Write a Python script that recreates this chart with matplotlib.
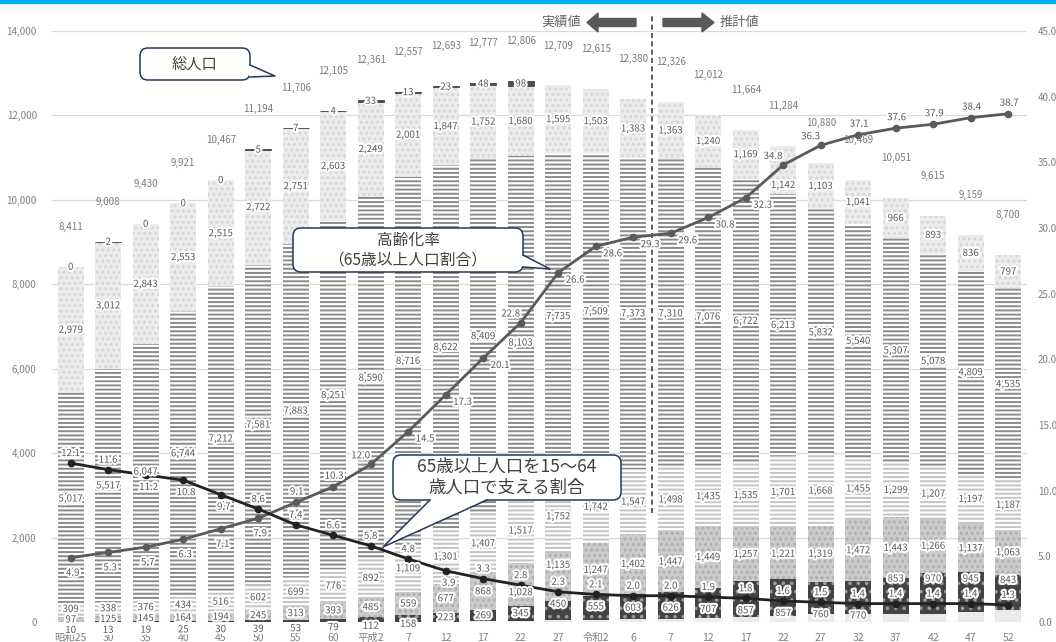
import numpy as np
import matplotlib
matplotlib.use("Agg")
import matplotlib.pyplot as plt
from matplotlib import patheffects as pe
from matplotlib.patches import FancyBboxPatch, Polygon, Rectangle
from matplotlib.lines import Line2D
from matplotlib.transforms import IdentityTransform

plt.rcParams['font.family'] = ['Noto Sans CJK JP', 'DejaVu Sans']
plt.rcParams['hatch.linewidth'] = 1.4

# --- data (万人 / %) ---
years = ["昭和25", "30", "35", "40", "45", "50", "55", "60", "平成2", "7", "12", "17", "22",
         "27", "令和2", "6", "7", "12", "17", "22", "27", "32", "37", "42", "47", "52"]
total = [8411, 9008, 9430, 9921, 10467, 11194, 11706, 12105, 12361, 12557, 12693, 12777, 12806,
         12709, 12615, 12380, 12326, 12012, 11664, 11284, 10880, 10469, 10051, 9615, 9159, 8700]
unknown = [0, 2, 0, 0, 0, 5, 7, 4, 33, 13, 23, 48, 98,
           None, None, None, None, None, None, None, None, None, None, None, None, None]
age0_14 = [2979, 3012, 2843, 2553, 2515, 2722, 2751, 2603, 2249, 2001, 1847, 1752, 1680,
           1595, 1503, 1383, 1363, 1240, 1169, 1142, 1103, 1041, 966, 893, 836, 797]
age15_64 = [5017, 5517, 6047, 6744, 7212, 7581, 7883, 8251, 8590, 8716, 8622, 8409, 8103,
            7735, 7509, 7373, 7310, 7076, 6722, 6213, 5832, 5540, 5307, 5078, 4809, 4535]
age65_74 = [309, 338, 376, 434, 516, 602, 699, 776, 892, 1109, 1301, 1407, 1517,
            1752, 1742, 1547, 1498, 1435, 1535, 1701, 1668, 1455, 1299, 1207, 1197, 1187]
age75_84 = [97, 125, 145, 164, 194, 245, 313, 393, 485, 559, 677, 868, 1028,
            1135, 1247, 1402, 1447, 1449, 1257, 1221, 1319, 1472, 1443, 1266, 1137, 1063]
age85_94 = [10, 13, 19, 25, 30, 39, 53, 79, 112, 158, 223, 269, 345,
            450, 555, 603, 626, 707, 857, 857, 760, 770, 853, 970, 945, 843]
age95 = [0, 0, 0, 0, 0, 0, 0, 0, 0, 0, 0, 24, 35,
         42, 59, 72, 82, 105, 124, 150, 198, 191, 183, 201, 235, 275]
aging_rate = [4.9, 5.3, 5.7, 6.3, 7.1, 7.9, 9.1, 10.3, 12.0, 14.5, 17.3, 20.1, 22.8,
              26.6, 28.6, 29.3, 29.6, 30.8, 32.3, 34.8, 36.3, 37.1, 37.6, 37.9, 38.4, 38.7]
support = [12.1, 11.6, 11.2, 10.8, 9.7, 8.6, 7.4, 6.6, 5.8, 4.8, 3.9, 3.3, 2.8,
           2.3, 2.1, 2.0, 2.0, 1.9, 1.8, 1.6, 1.5, 1.4, 1.4, 1.4, 1.4, 1.3]

# label placement codes
aging_pos = ['b', 'b', 'b', 'b', 'b', 'b', 'a', 'a', 'ul', 'r', 'r', 'r', 'ul',
             'r', 'r', 'r', 'r', 'r', 'r', 'ul', 'ul', 'a', 'a', 'a', 'a', 'a']
support_pos = ['a', 'a', 'b', 'b', 'b', 'a', 'a', 'a', 'a', 'a', 'b', 'a', 'a',
               'a', 'a', 'a', 'a', 'a', 'a', 'a', 'a', 'a', 'a', 'a', 'a', 'a']
dark_pos = ['c'] * 13 + ['lo'] * 9 + ['hi'] * 4

W, H = 1056, 642
TXT = '#595959'
halo = [pe.withStroke(linewidth=3, foreground='white')]

fig = plt.figure(figsize=(W / 100, H / 100), dpi=100)
ax = fig.add_axes([52 / W, 20 / H, 975 / W, 591 / H])
ax2 = ax.twinx()

x = np.arange(len(years))
n = len(years)
unk = np.array([0 if v is None else v for v in unknown], dtype=float)

layers = [
    (age95, dict(color='#ebebeb')),
    (age85_94, dict(facecolor='#434343', edgecolor='#9a9a9a', hatch='..')),
    (age75_84, dict(facecolor='#cbcbcb', edgecolor='#adadad', hatch='...')),
    (age65_74, dict(facecolor='white', edgecolor='#c4c4c4', hatch='----')),
    (age15_64, dict(facecolor='white', edgecolor='#8a8a8a', hatch='----')),
    (age0_14, dict(facecolor='#ececec', edgecolor='#d6d6d6', hatch='...')),
]
bottom = np.zeros(n)
bases = []
for vals, style in layers:
    vals = np.array(vals, dtype=float)
    ax.bar(x, vals, 0.7, bottom=bottom, linewidth=0, **style)
    bases.append(bottom.copy())
    bottom = bottom + vals
# 不詳 (thin dark cap)
mask = unk > 0
ax.bar(x[mask], unk[mask], 0.7, bottom=bottom[mask], color='#505050',
       edgecolor='#505050', linewidth=0.7)

ax.set_xlim(-0.5, n - 0.5)
ax.set_ylim(0, 14000)
ax.set_yticks(np.arange(0, 14001, 2000))
ax.set_yticklabels([f"{v:,}" for v in range(0, 14001, 2000)])
ax.yaxis.grid(True, color='#d9d9d9', lw=0.9)
ax.set_axisbelow(True)
ax.set_xticks(x, years)
ax.tick_params(axis='both', length=0, labelsize=7, labelcolor='#808080')
ax.tick_params(axis='x', pad=8, labelsize=7.5)
ax.tick_params(axis='y', pad=11)
for s in ax.spines.values():
    s.set_visible(False)

ax2.set_ylim(0, 45)
ax2.set_yticks(np.arange(0, 45.1, 5))
ax2.set_yticklabels([f"{v:.1f}" for v in np.arange(0, 45.1, 5)])
ax2.tick_params(axis='y', length=0, labelsize=7, labelcolor='#808080', pad=8)
for s in ax2.spines.values():
    s.set_visible(False)

# lines
ax2.plot(x, aging_rate, color='#5a5a5a', lw=2.0, marker='o', ms=4.5, zorder=5)
ax2.plot(x, support, color='#222222', lw=2.0, marker='o', ms=4.5, zorder=6)

PX = 14000 / 591      # value units per pixel on the left axis
RV = 14000 / 45       # right axis -> left axis values

off_a = {'b': (2, -15), 'a': (1, 11), 'ul': (-10, 9), 'r': (17, -7)}
off_s = {'a': (0, 10), 'b': (3, -12)}


def seg_label(i, y, v):
    ax2.text(i, y, f"{v:,}", transform=ax.transData, ha='center', va='center',
             fontsize=7, color=TXT, path_effects=halo, zorder=10)


def away(y, other, thr, step):
    # push a label off another mark that sits on the same bar
    if abs(y - other) < thr * PX:
        return other + step * PX if y > other else other - step * PX
    return y


for i in range(n):
    s_val = support[i] * RV
    s_lab = s_val + off_s[support_pos[i]][1] * PX
    a_val = aging_rate[i] * RV

    v85 = age85_94[i]
    if dark_pos[i] == 'lo':
        y85 = s_val - 12 * PX
    elif dark_pos[i] == 'hi':
        y85 = s_val + 25 * PX
    else:
        y85 = v85 - 200 if v85 < 200 else bases[1][i] + v85 / 2
    seg_label(i, y85, v85)

    y75 = bases[2][i] + age75_84[i] / 2
    if dark_pos[i] == 'c':
        y75 = max(y75, y85 + 250)
    y75 = away(y75, s_lab, 12, 17)
    seg_label(i, y75, age75_84[i])

    y65 = max(bases[3][i] + age65_74[i] / 2, y75 + 250)
    seg_label(i, y65, age65_74[i])

    y15 = bases[4][i] + age15_64[i] / 2
    if abs(y15 - a_val) < 12 * PX:
        y15 = a_val - 20 * PX
    seg_label(i, y15, age15_64[i])

    y0 = bases[5][i] + age0_14[i] / 2
    if abs(y0 - a_val) < 12 * PX:
        y0 = a_val - 20 * PX
    seg_label(i, y0, age0_14[i])

    if unknown[i] is not None:
        seg_label(i, bottom[i] + unk[i] / 2, unknown[i])
    ax2.annotate(f"{total[i]:,}", (i, total[i]), xycoords=ax.transData, xytext=(0, 40),
                 textcoords='offset pixels', ha='center', va='center', fontsize=7,
                 color='#7a7a7a', zorder=10)

    ax2.annotate(f"{aging_rate[i]:.1f}", (i, aging_rate[i]), xytext=off_a[aging_pos[i]],
                 textcoords='offset pixels', ha='center', va='center', fontsize=7,
                 color=TXT, path_effects=halo, zorder=11)
    ax2.annotate(f"{support[i]:.1f}", (i, support[i]), xytext=off_s[support_pos[i]],
                 textcoords='offset pixels', ha='center', va='center', fontsize=7,
                 color=TXT, path_effects=halo, zorder=11)

# 実績値 / 推計値 divider
ax.axvline(15.5, ymin=(622 - 513) / 591, ymax=(622 - 14) / 591, color='#404040',
           lw=1.2, ls=(0, (3, 2)), clip_on=False, zorder=4)

ident = IdentityTransform()


def P(px, py):
    return (px, H - py)


def fig_text(px, py, s, **kw):
    fig.text(px / W, 1 - py / H, s, **kw)


# top cyan strip
fig.add_artist(Rectangle(P(0, 3), W, 3, transform=ident, color='#00b0f0', zorder=30))

# arrows
arrow_col = '#595959'
fig.add_artist(Polygon([P(587, 22.5), P(598, 13), P(598, 18.5), P(636, 18.5), P(636, 26.5),
                        P(598, 26.5), P(598, 32)], closed=True, transform=ident,
                       color=arrow_col, zorder=30))
fig.add_artist(Polygon([P(714, 22.5), P(702, 13), P(702, 18.5), P(663, 18.5), P(663, 26.5),
                        P(702, 26.5), P(702, 32)], closed=True, transform=ident,
                       color=arrow_col, zorder=30))
fig_text(581, 22, "実績値", ha='right', va='center', fontsize=9.5, color='#666666')
fig_text(720, 22, "推計値", ha='left', va='center', fontsize=9.5, color='#666666')

# callouts
EDGE = '#23395b'


def callout(x0, y0, x1, y1, b1, tip, b2, text, fs):
    box = FancyBboxPatch(P(x0, y1), x1 - x0, y1 - y0,
                         boxstyle='round,pad=0,rounding_size=8', transform=ident,
                         facecolor='white', edgecolor=EDGE, lw=1.1, zorder=40)
    fig.add_artist(box)
    cx, cy = (x0 + x1) / 2, (y0 + y1) / 2
    inner = [(b[0] + (cx - b[0]) * 0.02, b[1] + (cy - b[1]) * 0.06) for b in (b1, b2)]
    fig.add_artist(Polygon([P(*inner[0]), P(*tip), P(*inner[1])], closed=True,
                           transform=ident, facecolor='white', edgecolor='none', zorder=41))
    fig.add_artist(Line2D([b1[0], tip[0], b2[0]], [H - b1[1], H - tip[1], H - b2[1]],
                          transform=ident, color=EDGE, lw=1.1, zorder=42))
    fig_text(cx, cy, text, ha='center', va='center', fontsize=fs, color='#404040',
             linespacing=1.2, zorder=43)


callout(140, 48, 250, 80, (250, 65), (275, 76), (250, 77), "総人口", 11)
callout(293, 228, 523, 272, (523, 255), (550, 269), (523, 267),
        "高齢化率\n（65歳以上人口割合）", 11.3)
callout(393, 455, 621, 500, (430, 500), (383, 547), (487, 500),
        "65歳以上人口を15～64\n歳人口で支える割合", 12.5)

fig.savefig("out.png", dpi=100)
